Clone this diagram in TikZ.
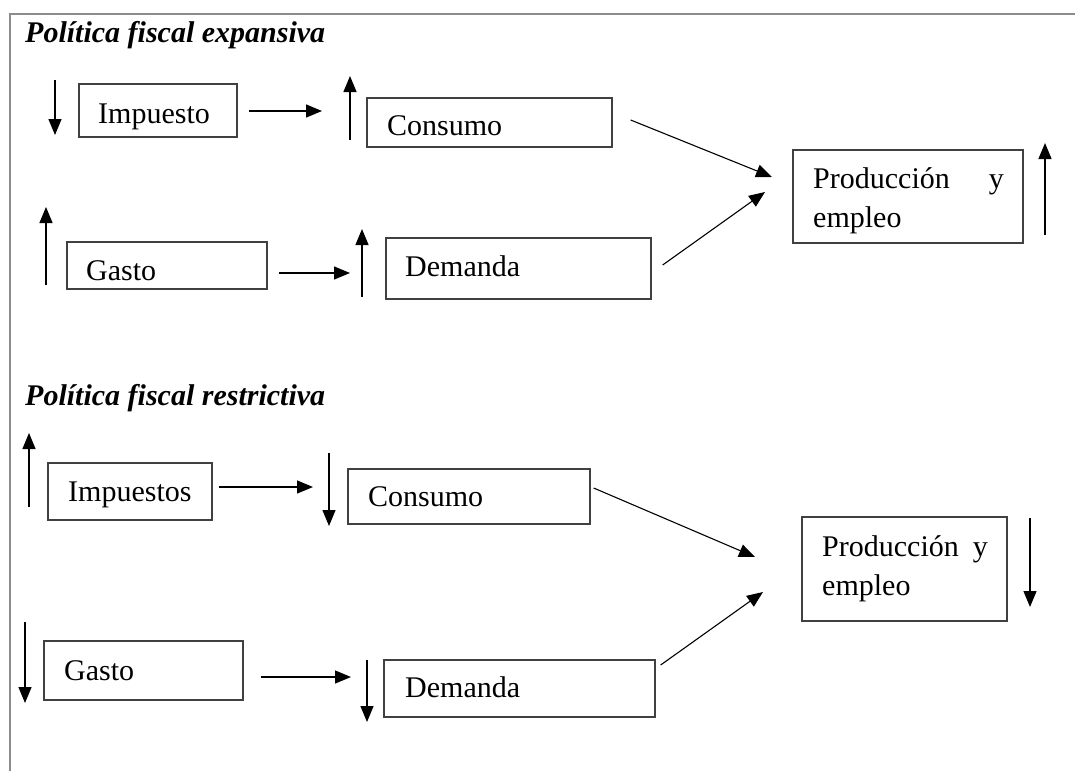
\documentclass[tikz,border=0pt]{standalone}
\usepackage{fontspec}
\setmainfont{Liberation Serif}
\usetikzlibrary{arrows.meta}

\tikzset{
  box/.style={draw=black!75, line width=1.3pt, inner sep=0pt, fill=none},
  lbl/.style={anchor=base west, inner sep=0pt, font=\fontsize{30}{36}\selectfont},
  lble/.style={anchor=base east, inner sep=0pt, font=\fontsize{30}{36}\selectfont},
  heading/.style={anchor=base west, inner sep=0pt, font=\fontsize{30}{36}\selectfont\bfseries\itshape},
  arr/.style={-{Triangle[length=16pt,width=13pt]}, line width=1.3pt},
  frameline/.style={draw=black!45, line width=2.2pt},
}

\begin{document}
\begin{tikzpicture}[x=1pt, y=-1pt]
\useasboundingbox (0,0) rectangle (1075,771);

% outer frame (top and left edges)
\draw[frameline] (1075,14) -- (10,14) -- (10,771);

% ---------- expansive policy ----------
\node[heading] (t1) at (25,42) {Política fiscal expansiva};

\node[box, minimum width=158pt, minimum height=53pt] (imp) at (158,110.5) {};
\node[box, minimum width=245pt, minimum height=49pt] (con) at (489.5,122.5) {};
\node[box, minimum width=200pt, minimum height=47pt] (gas) at (167,265.5) {};
\node[box, minimum width=265pt, minimum height=61pt] (dem) at (518.5,268.5) {};
\node[box, minimum width=230pt, minimum height=93pt] (prod) at (908,196.5) {};

\node[lbl] (impT) at (98,123) {Impuesto};
\node[lbl] (conT) at (387,135) {Consumo};
\node[lbl] (gasT) at (86,280) {Gasto};
\node[lbl] (demT) at (405,276) {Demanda};
\node[lbl] (prodT) at (813,188) {Producción};
\node[lble] (prodY) at (1004,188) {y};
\node[lbl] (prodE) at (813,227) {empleo};

% direction markers
\coordinate (a1s) at (55,80);    \coordinate (a1e) at (55,135);
\coordinate (a2s) at (350,140);  \coordinate (a2e) at (350,76);
\coordinate (a3s) at (46,285);   \coordinate (a3e) at (46,207);
\coordinate (a4s) at (362,297);  \coordinate (a4e) at (362,229);
\coordinate (a5s) at (1045,235); \coordinate (a5e) at (1045,143);
\draw[arr] (a1s) -- (a1e);
\draw[arr] (a2s) -- (a2e);
\draw[arr] (a3s) -- (a3e);
\draw[arr] (a4s) -- (a4e);
\draw[arr] (a5s) -- (a5e);

% causal links
\coordinate (h1e) at (322,111);
\coordinate (h2e) at (350,273);
\coordinate (d1e) at (772,177);
\coordinate (d2e) at (765,192);
\draw[arr] ([xshift=11pt]imp.east |- h1e) -- (h1e);
\draw[arr] ([xshift=11pt]gas.east |- h2e) -- (h2e);
\draw[arr, line width=1.1pt] ([xshift=18pt,yshift=2.5pt]con.east) -- (d1e);
\draw[arr, line width=1.1pt] ([xshift=11pt,yshift=3.5pt]dem.east) -- (d2e);

% ---------- restrictive policy ----------
\node[heading] (t2) at (25,405) {Política fiscal restrictiva};

\node[box, minimum width=164pt, minimum height=57pt] (imps) at (130,491.5) {};
\node[box, minimum width=242pt, minimum height=55pt] (conb) at (469,496.5) {};
\node[box, minimum width=199pt, minimum height=59pt] (gasb) at (143.5,670.5) {};
\node[box, minimum width=271pt, minimum height=57pt] (demb) at (519.5,688.5) {};
\node[box, minimum width=205pt, minimum height=104pt] (prodb) at (904.5,569) {};

\node[lbl] (impsT) at (68,501) {Impuestos};
\node[lbl] (conbT) at (368,506) {Consumo};
\node[lbl] (gasbT) at (64,680) {Gasto};
\node[lbl] (dembT) at (405,697) {Demanda};
\node[lbl] (prodbT) at (822,556) {Producción};
\node[lble] (prodbY) at (988,556) {y};
\node[lbl] (prodbE) at (822,595) {empleo};

% direction markers
\coordinate (b1s) at (29,507);   \coordinate (b1e) at (29,433);
\coordinate (b2s) at (329,453);  \coordinate (b2e) at (329,526);
\coordinate (b3s) at (1030,518); \coordinate (b3e) at (1030,607);
\coordinate (b4s) at (25,622);   \coordinate (b4e) at (25,703);
\coordinate (b5s) at (367,660);  \coordinate (b5e) at (367,722);
\draw[arr] (b1s) -- (b1e);
\draw[arr] (b2s) -- (b2e);
\draw[arr] (b3s) -- (b3e);
\draw[arr] (b4s) -- (b4e);
\draw[arr] (b5s) -- (b5e);

% causal links
\coordinate (g1e) at (313,487);
\coordinate (g2e) at (351,677);
\coordinate (k1e) at (755,557);
\coordinate (k2e) at (763,592);
\draw[arr] ([xshift=6pt]imps.east |- g1e) -- (g1e);
\draw[arr] ([xshift=17pt]gasb.east |- g2e) -- (g2e);
\draw[arr, line width=1.1pt] ([xshift=3pt,yshift=8.5pt]conb.east) -- (k1e);
\draw[arr, line width=1.1pt] ([xshift=5pt,yshift=23.5pt]demb.east) -- (k2e);
\end{tikzpicture}
\end{document}
